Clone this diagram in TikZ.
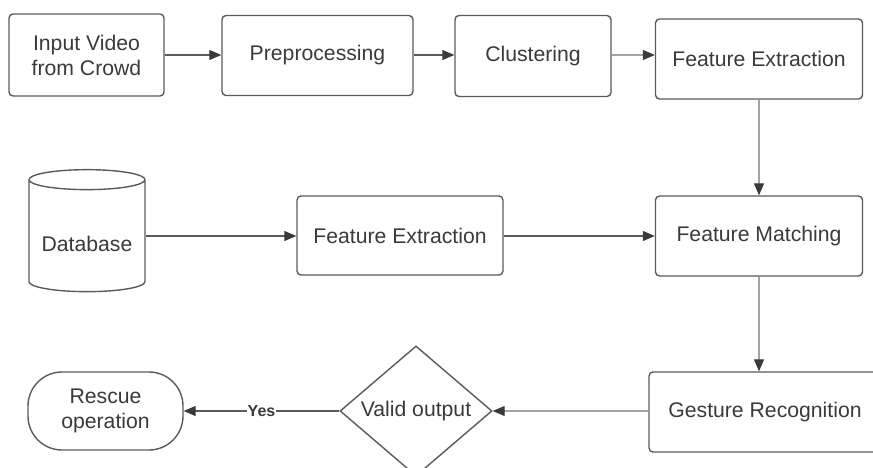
\documentclass[tikz,border=0pt]{standalone}
\usepackage{fontspec}
\setmainfont{Liberation Sans}
\usepackage{xcolor}
\usetikzlibrary{shapes.geometric,arrows.meta}

\definecolor{inkgray}{HTML}{3A3A3A}
\definecolor{linegray}{HTML}{5A5A5A}

\tikzset{
    procbox/.style={draw=linegray, line width=0.7pt, rounded corners=2pt, align=center,
        text=inkgray, font=\fontsize{10.6}{12.5}\selectfont, inner sep=0pt},
    dbnode/.style={draw=linegray, line width=0.7pt, cylinder, shape border rotate=90, aspect=0.22,
        text=inkgray, font=\fontsize{10.6}{12.5}\selectfont, inner sep=0pt},
    decision/.style={draw=linegray, line width=0.7pt, diamond, inner sep=0pt,
        text=inkgray, font=\fontsize{10.6}{12.5}\selectfont},
    terminal/.style={procbox, rounded corners=17pt},
    flow/.style={draw=linegray, line width=0.6pt, -{Triangle[length=6pt,width=5pt,color=inkgray]}},
    faint/.style={draw=linegray!55}
}

\begin{document}
\begin{tikzpicture}[x=0.5pt, y=-0.5pt]
        \useasboundingbox (0,0) rectangle (873,467);
        % top row
        \node[procbox, minimum width=77.5pt, minimum height=41pt] (input) at (86.5,55) {Input Video\\from Crowd};
        \node[procbox, minimum width=95.5pt, minimum height=40pt] (prep) at (317.5,55.5) {Preprocessing};
        \node[procbox, minimum width=78pt, minimum height=40.5pt] (clust) at (533,56) {Clustering};
        \node[procbox, minimum width=103.5pt, minimum height=40pt] (featA) at (759,59) {Feature Extraction};

        % middle row
        \node[dbnode, minimum width=58pt, minimum height=61pt] (db) at (87,236) {\raisebox{-4pt}[\height][0pt]{Database}};
        \node[procbox, minimum width=103pt, minimum height=39.5pt] (featB) at (400,235.5) {Feature Extraction};
        \node[procbox, minimum width=103.5pt, minimum height=40pt] (match) at (759,236) {Feature Matching};

        % bottom row
        \node[terminal, minimum width=77.5pt, minimum height=39pt] (rescue) at (105.5,411) {Rescue\\operation};
        \node[decision, minimum width=76pt, minimum height=58pt] (valid) at (416,411) {Valid output};
        \node[procbox, minimum width=116pt, minimum height=40pt] (gesture) at (765,412) {Gesture Recognition};

        % connectors
        \draw[flow] (input.east |- 0,55) -- (prep.west |- 0,55);
        \draw[flow] (prep.east |- 0,55) -- (clust.west |- 0,55);
        \draw[flow, faint] (clust.east |- 0,55) -- (featA.west |- 0,55);
        \draw[flow, faint] (featA.south) -- (match.north);
        \draw[flow] (db.east |- 0,236) -- (featB.west |- 0,236);
        \draw[flow] (featB.east |- 0,236) -- (match.west |- 0,236);
        \draw[flow, faint] (match.south) -- (match.south |- gesture.north);
        \draw[flow, faint] (gesture.west |- valid.east) -- (valid.east);
        \draw[flow] (valid.west) -- node[fill=white, inner sep=0.5pt, text=inkgray,
            font=\fontsize{8}{9}\selectfont\bfseries] {Yes} (rescue.east |- valid.west);
    \end{tikzpicture}
\end{document}
